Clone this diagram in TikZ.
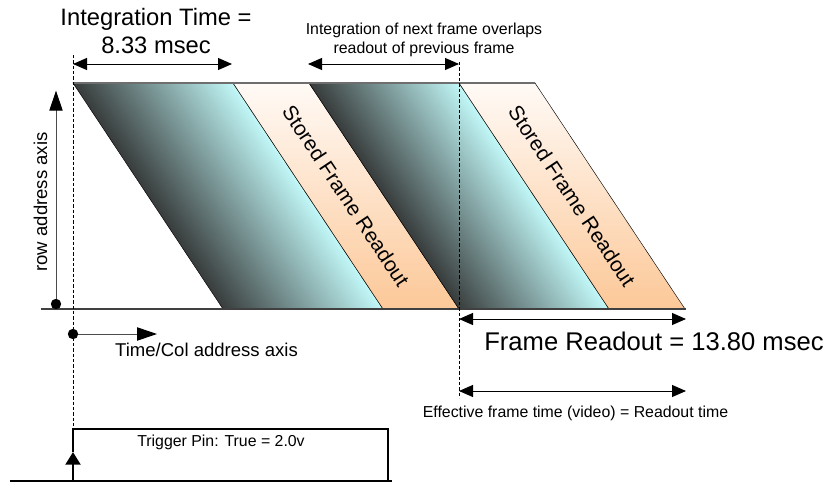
\documentclass[tikz,border=0pt]{standalone}
\usepackage{fontspec}
\setmainfont{Liberation Sans}
\usetikzlibrary{arrows.meta}
\definecolor{darkc}{RGB}{56,60,60}
\definecolor{lightc}{RGB}{194,248,248}
\definecolor{orT}{RGB}{255,250,246}
\definecolor{orB}{RGB}{252,200,152}
\definecolor{edgegray}{RGB}{110,110,110}
\begin{document}
\begin{tikzpicture}[x=0.75pt,y=-0.75pt,
  dimarrow/.style={line width=0.75pt, {Triangle[length=10.5pt,width=9pt]}-{Triangle[length=10.5pt,width=9pt]}},
  axisarrow/.style={line width=0.75pt, -{Triangle[length=15pt,width=10pt,color=black]}},
  guide/.style={line width=0.6pt, dash pattern=on 2.4pt off 1.6pt},
  smalltxt/.style={font=\fontsize{11.9}{13.9}\selectfont, inner sep=0pt, align=center},
  midtxt/.style={font=\fontsize{13.9}{16}\selectfont, inner sep=0pt},
  bigtxt/.style={font=\fontsize{17.8}{21}\selectfont, inner sep=0pt, align=center},
  stripetxt/.style={font=\fontsize{15.6}{18}\selectfont, inner sep=0pt, rotate=-56.43},
  darkband/.style={left color=darkc, right color=lightc, draw=black, line width=0.4pt},
  orangeband/.style={top color=orT, bottom color=orB, draw=black, line width=0.4pt},
  pulse/.style={line width=2.2pt}
]
\useasboundingbox (0,0) rectangle (839,482);

% skewed bands
\begin{scope}[transform canvas={cm={1,0,-0.66372,1,(-41.317pt,0pt)}}]
  \shade[darkband] (73,83) rectangle (233,309);
  \shade[orangeband] (233,83) rectangle (309,309);
  \shade[darkband] (309,83) rectangle (459,309);
  \shade[orangeband] (459,83) rectangle (535,309);
\end{scope}

% named coordinates
\coordinate (topL) at (73,83);
\coordinate (topR) at (535,83);
\coordinate (botL) at (41,309);
\coordinate (botR) at (686,309);

\draw[edgegray, line width=1pt] (topL) -- (topR);
\draw[black!75, line width=1pt] (botL) -- (botR);

% stored frame texts
\node[stripetxt] (sf1) at (346,196) {Stored Frame Readout};
\node[stripetxt] (sf2) at (572,196) {Stored Frame Readout};

% dashed guides
\coordinate (g1a) at (73,55);
\coordinate (g1b) at (73,428);
\coordinate (g2a) at (459,62);
\coordinate (g2b) at (459,398);
\draw[guide] (g1a) -- (g1b);
\draw[guide] (g2a) -- (g2b);

% dimension arrows
\coordinate (i1) at (73,64);
\coordinate (i2) at (232,64);
\draw[dimarrow] (i1) -- (i2);
\coordinate (o1) at (308,64);
\coordinate (o2) at (459,64);
\draw[dimarrow] (o1) -- (o2);
\coordinate (f1) at (459,319);
\coordinate (f2) at (686,319);
\draw[dimarrow] (f1) -- (f2);
\coordinate (e1) at (459,391);
\coordinate (e2) at (686,391);
\draw[dimarrow] (e1) -- (e2);

% axes
\coordinate (rowdot) at (56,304);
\coordinate (rowtip) at (56,90.7);
\draw[axisarrow, black!70] (rowdot) -- (rowtip);
\fill (rowdot) circle[radius=3.9pt];
\coordinate (coldot) at (73,334);
\coordinate (coltip) at (157,334);
\draw[axisarrow, black!70] (coldot) -- (coltip);
\fill (coldot) circle[radius=3.9pt];

% texts
\node[bigtxt, anchor=base] (inttxt) at (156,53.5) {Integration Time =\\8.33 msec};
\node[smalltxt, anchor=base] (ovtxt) at (424,53) {Integration of next frame overlaps\\readout of previous frame};
\node[midtxt, anchor=base] (coltxt) at (206.5,356.5) {Time/Col address axis};
\node[midtxt, anchor=base, rotate=90] (rowtxt) at (47,202) {row address axis};
\node[font=\fontsize{19.2}{22}\selectfont, inner sep=0pt, anchor=base] (frtxt) at (654,350) {Frame Readout = 13.80 msec};
\node[smalltxt, anchor=base] (eftxt) at (575.5,417) {Effective frame time (video) = Readout time};

% trigger pulse
\coordinate (pb1) at (10,481);
\coordinate (pb2) at (392,481);
\coordinate (pr0) at (73,481);
\coordinate (prm) at (73,452);
\coordinate (pr1) at (73,429);
\coordinate (pf1) at (388,429);
\coordinate (pf0) at (388,481);
\draw[line width=0.9pt] (pb1) -- (pb2);
\draw[pulse, -{Triangle[length=9.5pt,width=11pt]}] (pr0) -- (prm);
\draw[pulse, line join=miter] (prm) -- (pr1) -- (pf1) -- (pf0);
\node[smalltxt, anchor=base] (trtxt) at (221,446.3) {Trigger Pin: True = 2.0v};
\end{tikzpicture}
\end{document}
